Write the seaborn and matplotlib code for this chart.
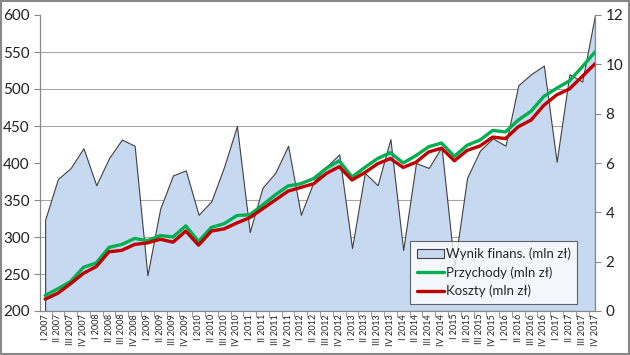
import numpy as np
import pandas as pd
import matplotlib
matplotlib.use("Agg")
import matplotlib.pyplot as plt
import seaborn as sns
from matplotlib.patches import Patch, Rectangle
from matplotlib.lines import Line2D
from matplotlib.ticker import FixedLocator

# kwartaly I 2007 - IV 2017
roman = ["I", "II", "III", "IV"]
years = list(range(2007, 2018))
kwartaly = [r + " " + str(y) for y in years for r in roman]

# wynik finansowy (mln zl) - prawa os
wynik = [3.7, 5.35, 5.8, 6.6, 5.1, 6.2, 6.95, 6.7, 1.45, 4.15, 5.5, 5.7,
         3.9, 4.45, 5.85, 7.5, 3.2, 5.0, 5.6, 6.7, 3.9, 5.25, 5.85, 6.35,
         2.55, 5.6, 5.1, 6.97, 2.47, 6.0, 5.8, 6.65, 1.8, 5.4, 6.5, 7.0,
         6.7, 9.15, 9.6, 9.95, 6.05, 9.6, 9.3, 12.0]

# przychody i koszty (mln zl) - lewa os
przychody = [221, 230, 240, 259, 265, 286, 290, 298, 295, 302, 300, 315,
             294, 313, 318, 329, 330, 343, 357, 369, 372, 379, 393, 403,
             381, 394, 406, 414, 400, 410, 422, 427, 409, 424, 431, 444,
             442, 458, 470, 490, 501, 511, 530, 550]
koszty = [216, 224, 237, 251, 260, 280, 282, 290, 292, 297, 293, 308,
          289, 308, 311, 319, 326, 338, 350, 362, 367, 372, 386, 395,
          377, 387, 399, 406, 394, 401, 415, 420, 403, 417, 423, 435,
          433, 449, 458, 478, 492, 500, 517, 534]

df = pd.DataFrame({"x": np.arange(len(kwartaly)), "przychody": przychody,
                   "koszty": koszty, "wynik": wynik})

sns.set_style("white")
plt.rcParams["font.family"] = ["Lato", "DejaVu Sans"]

fig = plt.figure(figsize=(6.3, 3.55), dpi=100)
ax1 = fig.add_axes([40 / 630, 1 - 311 / 355, 555 / 630, 296 / 355])
ax2 = ax1.twinx()

# obszar - wynik finansowy
ax2.fill_between(df["x"], 0, df["wynik"], facecolor="#c6d9f0",
                 edgecolor="#404040", linewidth=0.8, zorder=2)
ax2.set_ylim(0, 12)
ax2.set_yticks(range(0, 13, 2))
ax2.yaxis.set_minor_locator(FixedLocator([1.5 * i for i in range(1, 9)]))
ax2.grid(which="minor", axis="y", color="#a6a6a6", linewidth=0.8)
ax2.set_axisbelow(True)
ax2.tick_params(axis="y", which="major", direction="out", length=4,
                color="#888888", labelsize=11, labelcolor="#222222", right=True)
ax2.tick_params(axis="y", which="minor", length=0)

# linie
ax1.set_zorder(ax2.get_zorder() + 1)
ax1.patch.set_visible(False)
sns.lineplot(data=df, x="x", y="przychody", ax=ax1, color="#00b050",
             linewidth=2.4)
sns.lineplot(data=df, x="x", y="koszty", ax=ax1, color="#c00000",
             linewidth=2.4)
ax1.set_ylim(200, 600)
ax1.set_yticks(range(200, 601, 50))
ax1.tick_params(axis="y", direction="out", length=4, color="#888888",
                labelsize=11, labelcolor="#222222", left=True)
ax1.set_xlim(-0.4, 43)
ax1.set_xticks(df["x"])
ax1.set_xticklabels(kwartaly, rotation=90, fontsize=6.5, color="#222222")
ax1.xaxis.set_minor_locator(FixedLocator(np.arange(-0.5, 43.6, 1)))
ax1.tick_params(axis="x", which="major", length=0, pad=2)
ax1.tick_params(axis="x", which="minor", length=4, color="#888888",
                bottom=True)
ax1.set_xlabel("")
ax1.set_ylabel("")

for ax in (ax1, ax2):
    ax.spines["top"].set_visible(False)
    for s in ("left", "right", "bottom"):
        ax.spines[s].set_color("#888888")
        ax.spines[s].set_linewidth(0.8)

handles = [Patch(facecolor="#c6d9f0", edgecolor="#404040", linewidth=0.8),
           Line2D([], [], color="#00b050", linewidth=2.4),
           Line2D([], [], color="#c00000", linewidth=2.4)]
labels = ["Wynik finans. (mln zł)", "Przychody (mln zł)", "Koszty (mln zł)"]
leg = ax1.legend(handles, labels, loc="lower left",
                 bbox_to_anchor=(0.667, 0.024), fontsize=9.5, frameon=True,
                 fancybox=False, handlelength=2.1, handleheight=0.6,
                 handletextpad=0.1, borderpad=0.5, labelspacing=0.45,
                 borderaxespad=0)
leg.get_frame().set_edgecolor("#404040")
leg.get_frame().set_linewidth(0.8)

fig.patches.append(Rectangle((0.002, 0.003), 0.996, 0.994,
                             transform=fig.transFigure, fill=False,
                             edgecolor="#888888", linewidth=1.5))

fig.savefig("out.png", dpi=100)
